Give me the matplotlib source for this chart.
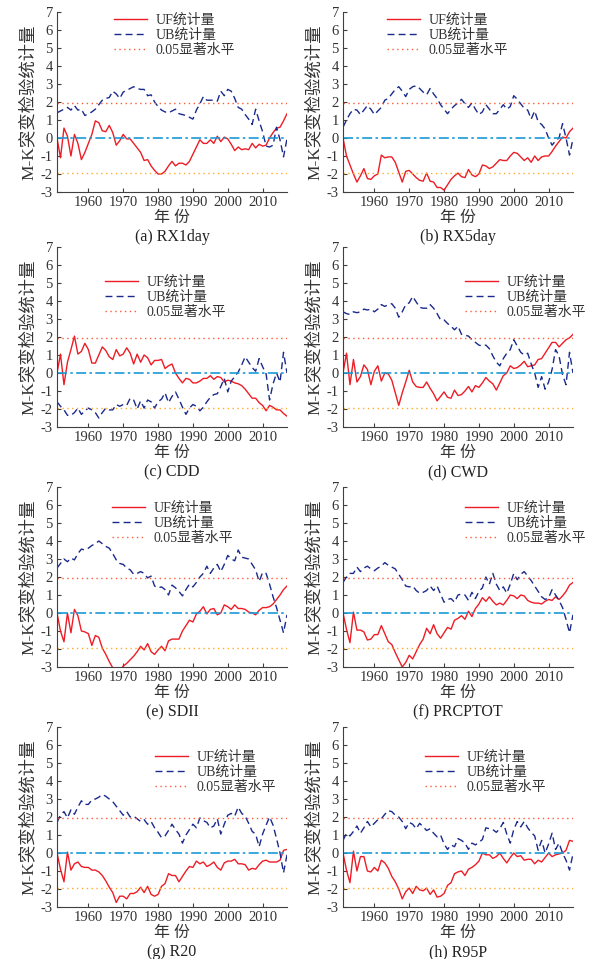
import numpy as np
import matplotlib
matplotlib.use('Agg')
import matplotlib.pyplot as plt

plt.rcParams['font.family'] = ['Liberation Serif', 'Noto Sans CJK SC']
plt.rcParams['axes.unicode_minus'] = False

years = np.arange(1951, 2018)
panel_titles = ['(a) RX1day', '(b) RX5day', '(c) CDD', '(d) CWD',
                '(e) SDII', '(f) PRCPTOT', '(g) R20', '(h) R95P']
legend_labels = ['UF统计量', 'UB统计量', '0.05显著水平']
sig_level = 1.96
yticks = [-3, -2, -1, 0, 1, 2, 3, 4, 5, 6, 7]
xticks = [1960, 1970, 1980, 1990, 2000, 2010]

uf_rx1day = [0, -1.1, 0.55, 0.1, -1.0, 0.2, -0.3, -1.2, -0.8, -0.3,
             0.2, 0.95, 0.85, 0.4, 0.35, 0.7, 0.3, -0.4, -0.15, 0.2,
             -0.05, -0.05, -0.3, -0.55, -0.8, -1.25, -1.2, -1.55, -1.8, -2.0,
             -2.0, -1.85, -1.55, -1.3, -1.55, -1.4, -1.4, -1.5, -1.3, -0.9,
             -0.5, -0.1, -0.3, -0.3, -0.1, -0.3, 0.1, -0.2, 0.05, -0.05,
             -0.35, -0.7, -0.5, -0.65, -0.6, -0.65, -0.3, -0.55, -0.35, -0.45,
             -0.4, 0.0, 0.3, 0.55, 0.6, 0.95, 1.35]
ub_rx1day = [1.4, 1.5, 1.6, 1.7, 1.55, 1.8, 1.55, 1.6, 1.25, 1.35,
             1.45, 1.6, 1.85, 2.1, 2.2, 2.25, 2.6, 2.45, 2.2, 2.55,
             2.65, 2.75, 2.85, 2.75, 2.7, 2.7, 2.35, 2.4, 2.0, 1.75,
             1.55, 1.45, 1.4, 1.5, 1.6, 1.35, 1.3, 1.25, 1.15, 1.05,
             1.55, 1.9, 2.3, 2.1, 2.1, 2.1, 2.05, 2.6, 2.35, 2.7,
             2.6, 2.2, 1.7, 1.6, 1.3, 1.05, 0.75, 1.6, 0.95, 0.35,
             -0.45, -0.5, -0.4, 0.6, -0.1, -1.05, -0.05]

uf_rx5day = [0, -1.0, -1.5, -2.0, -2.45, -2.1, -1.7, -2.25, -2.3, -2.1,
             -2.0, -0.95, -1.1, -1.05, -1.05, -1.35, -1.9, -2.45, -1.85, -1.8,
             -2.0, -2.2, -2.35, -2.4, -1.95, -2.4, -2.45, -2.75, -2.75, -2.9,
             -2.6, -2.3, -2.1, -1.95, -2.15, -2.2, -1.75, -2.05, -2.15, -2.0,
             -1.5, -1.55, -1.7, -1.6, -1.4, -1.2, -1.25, -1.25, -1.0, -0.8,
             -0.85, -1.05, -1.25, -1.1, -1.35, -1.0, -1.25, -1.05, -1.0, -1.0,
             -0.75, -0.45, -0.2, 0.05, 0.0, 0.35, 0.55]
ub_rx5day = [0.6, 1.0, 1.35, 1.6, 1.55, 1.3, 1.55, 1.8, 1.6, 1.3,
             1.5, 1.7, 2.1, 2.2, 2.45, 2.7, 2.85, 2.6, 2.3, 2.7,
             2.85, 2.9, 2.75, 2.55, 2.4, 2.75, 2.45, 2.2, 1.85, 1.6,
             1.35, 1.6, 1.8, 1.95, 2.15, 1.9, 1.7, 1.95, 1.6, 1.3,
             1.45, 1.85, 1.6, 1.35, 1.35, 1.6, 1.85, 1.6, 1.75, 2.35,
             2.15, 1.9, 1.65, 1.55, 1.05, 1.5, 0.9, 0.75, 0.5, 0.0,
             -0.4, -0.15, 0.0, 0.8, 0.0, -0.95, -0.05]

uf_cdd = [0, 1.05, -0.65, 0.6, 1.3, 2.05, 1.05, 1.2, 1.65, 1.3,
          0.55, 0.55, 1.0, 1.45, 1.25, 0.9, 0.75, 1.3, 0.95, 1.05,
          1.4, 1.1, 0.5, 1.05, 0.6, 1.0, 0.85, 0.45, 0.7, 0.7,
          0.75, 0.25, 0.4, 0.5, 0.0, -0.3, -0.55, -0.3, -0.35, -0.55,
          -0.55, -0.45, -0.3, -0.3, -0.15, -0.35, -0.2, -0.25, -0.5, -0.4,
          -0.45, -0.55, -0.6, -0.7, -0.9, -1.15, -1.4, -1.4, -1.65, -1.8,
          -2.1, -1.8, -1.9, -2.05, -2.05, -2.25, -2.4]
ub_cdd = [-1.6, -1.85, -2.05, -2.35, -2.35, -2.2, -1.95, -2.3, -2.1, -1.95,
          -2.05, -2.2, -2.5, -2.2, -1.95, -2.05, -2.05, -1.75, -1.85, -1.75,
          -1.8, -1.4, -1.5, -2.0, -1.55, -1.95, -1.5, -1.6, -1.95, -1.6,
          -1.45, -1.1, -1.65, -1.3, -1.05, -1.45, -1.9, -2.3, -1.95, -1.75,
          -1.85, -2.1, -1.9, -1.6, -1.35, -1.2, -1.15, -0.75, -0.3, -1.05,
          -0.45, -0.2, 0.05, 0.45, 0.9, 0.6, 0.3, 0.1, 0.8, 0.35,
          -0.05, -1.5, -0.6, 0.0, -0.5, 1.15, 0.0]

uf_cwd = [0, 1.1, -0.65, 0.75, -0.5, -0.2, 0.45, 0.2, -0.65, 0.1,
          0.4, -0.45, 0.0, -0.05, -0.4, -1.1, -1.8, -1.1, -0.5, 0.15,
          -0.5, -0.75, -0.8, -0.8, -0.5, -0.85, -1.15, -1.55, -1.3, -1.05,
          -1.35, -1.4, -0.95, -1.25, -1.2, -1.0, -0.75, -1.05, -0.7, -0.8,
          -0.55, -0.25, -0.45, -0.6, -0.95, -0.55, -0.15, 0.0, 0.4, 0.25,
          0.3, 0.45, 0.65, 0.35, 0.4, 0.45, 0.75, 0.8, 1.1, 1.4,
          1.7, 1.7, 1.45, 1.65, 1.85, 1.95, 2.15]
ub_cwd = [3.4, 3.3, 3.25, 3.4, 3.35, 3.4, 3.55, 3.5, 3.55, 3.4,
          3.55, 3.8, 3.7, 3.8, 3.85, 3.6, 3.1, 3.4, 3.8, 3.9,
          4.25, 3.95, 3.65, 3.6, 3.6, 3.8, 3.6, 3.3, 2.95, 2.95,
          2.75, 2.6, 2.4, 2.6, 2.15, 2.1, 2.05, 1.85, 1.7, 1.55,
          1.5, 1.55, 1.35, 0.95, 0.6, 0.4, 0.8, 1.1, 1.3, 1.85,
          1.5, 1.15, 1.0, 1.1, 0.5, 0.0, -0.8, -0.2, -0.9, -0.5,
          0.2, 1.3, 0.95, -0.1, -0.65, 1.15, 0.0]

uf_sdii = [0, -1.0, -1.6, 0.0, -1.1, 0.2, -0.15, -1.0, -1.05, -1.15,
           -1.8, -1.25, -1.35, -1.95, -2.3, -2.7, -3.05, -3.4, -3.2, -2.95,
           -2.8, -2.6, -2.4, -2.15, -1.85, -2.05, -1.7, -2.15, -2.3, -2.05,
           -1.85, -2.1, -1.55, -1.45, -1.45, -1.45, -1.0, -0.7, -0.4, -0.5,
           -0.05, 0.1, 0.35, -0.05, 0.2, 0.25, -0.1, 0.0, 0.45, 0.35,
           0.2, 0.45, 0.25, 0.25, 0.2, 0.05, 0.0, -0.1, 0.15, 0.3,
           0.3, 0.35, 0.5, 0.75, 1.0, 1.3, 1.5]
ub_sdii = [2.5, 2.75, 3.0, 2.85, 3.05, 2.95, 3.3, 3.55, 3.5, 3.6,
           3.75, 3.85, 4.0, 3.85, 3.7, 3.6, 3.3, 2.95, 2.75, 2.7,
           2.5, 2.4, 2.15, 2.2, 2.3, 2.2, 1.95, 2.05, 1.5, 1.4,
           1.45, 1.3, 1.0, 1.55, 1.4, 1.2, 0.95, 1.3, 1.6, 1.45,
           1.7, 2.0, 2.2, 2.6, 2.2, 2.5, 2.7, 2.3, 2.7, 3.2,
           3.0, 2.9, 3.5, 3.1, 3.05, 3.0, 2.7, 2.4, 1.75, 2.25,
           2.2, 1.6, 0.9, 0.3, -0.4, -1.1, -0.1]

uf_prcptot = [0, -0.9, -1.65, 0.05, -0.95, -0.95, -1.05, -1.5, -1.45, -1.2,
              -1.2, -0.7, -1.15, -1.6, -1.75, -2.2, -2.6, -3.0, -2.75, -2.35,
              -2.55, -2.15, -1.75, -1.45, -0.85, -1.15, -0.65, -1.15, -1.4, -1.1,
              -0.8, -0.9, -0.4, -0.3, -0.15, -0.35, 0.1, -0.2, 0.25, 0.5,
              0.85, 0.65, 0.9, 0.65, 0.45, 0.55, 0.45, 0.7, 1.0, 0.95,
              0.8, 1.0, 0.95, 0.7, 0.6, 0.55, 0.55, 0.5, 0.65, 0.75,
              0.7, 0.9, 0.75, 0.95, 1.2, 1.55, 1.7]
ub_prcptot = [1.7, 2.0, 2.2, 2.2, 2.55, 2.3, 2.5, 2.6, 2.45, 2.35,
              2.5, 2.6, 2.8, 2.65, 2.55, 2.45, 2.15, 1.85, 1.5, 1.45,
              1.5, 1.25, 1.1, 1.15, 1.25, 1.5, 1.25, 1.5, 1.05, 0.6,
              0.75, 0.8, 0.6, 1.0, 1.05, 1.0, 0.7, 1.15, 0.8, 1.2,
              1.4, 2.0, 1.6, 2.2, 1.6, 1.25, 1.45, 1.1, 1.6, 2.2,
              1.85, 2.15, 2.3, 2.05, 1.8, 1.5, 1.2, 0.9, 0.75, 0.85,
              1.3, 1.0, 0.7, 0.3, -0.35, -1.1, -0.1]

uf_r20 = [0, -0.9, -1.6, 0.05, -0.95, -0.6, -0.5, -0.75, -0.8, -0.8,
          -0.95, -0.95, -1.05, -1.25, -1.55, -1.9, -2.2, -2.75, -2.4, -2.4,
          -2.55, -2.25, -2.25, -2.15, -1.9, -2.2, -1.85, -2.3, -2.4, -2.3,
          -1.85, -1.7, -1.15, -1.25, -1.25, -1.6, -1.3, -1.0, -0.75, -0.8,
          -0.45, -0.6, -0.5, -0.75, -0.65, -0.5, -0.8, -0.95, -0.55, -0.45,
          -0.45, -0.35, -0.6, -0.6, -0.65, -0.95, -0.85, -0.9, -0.65, -0.45,
          -0.4, -0.5, -0.5, -0.5, -0.4, 0.15, 0.2]
ub_r20 = [1.7, 2.1, 2.3, 1.95, 2.4, 2.15, 2.55, 2.9, 2.7, 2.7,
          2.95, 3.0, 3.1, 3.25, 3.15, 3.0, 2.85, 2.6, 2.35, 2.1,
          2.3, 2.0, 2.05, 1.9, 1.75, 1.85, 1.6, 1.75, 1.4, 1.15,
          0.85, 0.95, 1.25, 1.6, 1.3, 1.05, 0.55, 1.0, 1.3, 1.6,
          1.4, 1.95, 1.8, 1.7, 1.4, 1.5, 1.9, 1.05, 1.6, 2.1,
          2.2, 2.05, 2.55, 2.2, 2.05, 1.65, 1.2, 1.05, 0.35, 1.05,
          1.55, 2.0, 1.55, 0.8, 0.0, -1.1, -0.1]

uf_r95p = [0, -0.95, -1.65, 0.1, -1.0, -0.2, -0.2, -1.0, -1.05, -0.8,
           -1.0, -0.4, -0.55, -0.85, -1.3, -1.6, -2.0, -2.55, -2.15, -1.95,
           -2.25, -1.85, -2.05, -2.1, -1.95, -2.3, -2.05, -2.45, -2.4, -2.25,
           -1.8, -1.65, -1.15, -1.05, -1.0, -1.25, -0.9, -0.8, -0.65, -0.45,
           0.0, -0.1, -0.1, -0.3, -0.2, 0.0, -0.3, -0.55, -0.25, 0.0,
           -0.2, -0.15, -0.4, -0.35, -0.35, -0.6, -0.4, -0.5, -0.25, 0.0,
           -0.2, -0.1, -0.05, 0.0, 0.15, 0.7, 0.65]
ub_r95p = [0.7, 1.1, 0.95, 1.2, 1.5, 1.1, 1.4, 1.75, 1.45, 1.65,
           1.85, 1.9, 2.15, 2.35, 2.3, 2.1, 2.0, 1.75, 1.35, 1.7,
           1.6, 1.35, 1.65, 1.45, 1.25, 1.35, 1.1, 0.9, 1.0, 0.5,
           0.2, 0.45, 0.35, 0.8, 0.7, 0.55, 0.2, 0.55, 0.45, 0.6,
           0.75, 1.4, 1.35, 1.3, 1.15, 1.35, 1.7, 1.05, 0.55, 1.3,
           1.75, 1.45, 1.75, 1.4, 1.15, 0.95, 0.15, 0.7, 0.0, 0.5,
           1.1, 0.2, 0.55, 0.0, -0.4, -0.95, -0.05]

uf_all = [uf_rx1day, uf_rx5day, uf_cdd, uf_cwd, uf_sdii, uf_prcptot, uf_r20, uf_r95p]
ub_all = [ub_rx1day, ub_rx5day, ub_cdd, ub_cwd, ub_sdii, ub_prcptot, ub_r20, ub_r95p]

# legend anchor (axes fraction) for each panel
legend_pos = [(0.248, 0.99), (0.191, 0.99), (0.209, 0.84), (0.53, 0.84),
              (0.239, 0.917), (0.53, 0.917), (0.426, 0.867), (0.357, 0.867)]

fig = plt.figure(figsize=(5.98, 9.59), dpi=100)
col_left = [57 / 598, 343 / 598]
row_bottom = [192, 427, 667, 907]
ax_w = 230 / 598
ax_h = 180 / 959

red = '#ee1c25'
blue = '#1a2a8c'
cyan = '#1a9ad6'
sig_up = '#ff5a36'
sig_dn = '#ffaa2a'
axis_col = '#404040'

for i in range(8):
    r, c = divmod(i, 2)
    ax = fig.add_axes([col_left[c], 1 - row_bottom[r] / 959, ax_w, ax_h])
    uf = np.array(uf_all[i])
    ub = np.array(ub_all[i])
    l1, = ax.plot(years, uf, color=red, lw=1.0)
    l2, = ax.plot(years, ub, color=blue, lw=1.0, ls=(0, (5, 3)))
    l3 = ax.axhline(sig_level, color=sig_up, lw=1.0, ls=(0, (1, 2.5)))
    ax.axhline(-sig_level, color=sig_dn, lw=1.0, ls=(0, (1, 2.5)))
    ax.axhline(0, color=cyan, lw=1.2, ls=(0, (6, 2, 1.5, 2)))

    ax.set_xlim(1951, 2017)
    ax.set_ylim(-3, 7)
    ax.set_xticks(xticks)
    ax.set_yticks(yticks)
    ax.spines['top'].set_visible(False)
    ax.spines['right'].set_visible(False)
    for s in ['left', 'bottom']:
        ax.spines[s].set_color(axis_col)
        ax.spines[s].set_linewidth(0.8)
    ax.tick_params(direction='in', length=3, width=0.8, colors=axis_col,
                   labelsize=10.5, labelcolor='#333333', pad=3)

    ax.text(-0.125, 0.5, 'M-K突变检验统计量', transform=ax.transAxes,
            rotation=90, ha='center', va='center', fontsize=12.5, color='#333333')
    ax.text(0.5, -0.145, '年 份', transform=ax.transAxes, ha='center',
            va='center', fontsize=11.5, color='#333333')
    ax.text(0.5, -0.25, panel_titles[i], transform=ax.transAxes, ha='center',
            va='center', fontsize=11.5, color='#222222')

    ax.legend([l1, l2, l3], legend_labels, loc='upper left',
              bbox_to_anchor=legend_pos[i], frameon=False, fontsize=10,
              handlelength=2.4, handletextpad=0.6, labelspacing=0.12,
              borderpad=0, borderaxespad=0, labelcolor='#333333')

fig.savefig('out.png', dpi=100)
